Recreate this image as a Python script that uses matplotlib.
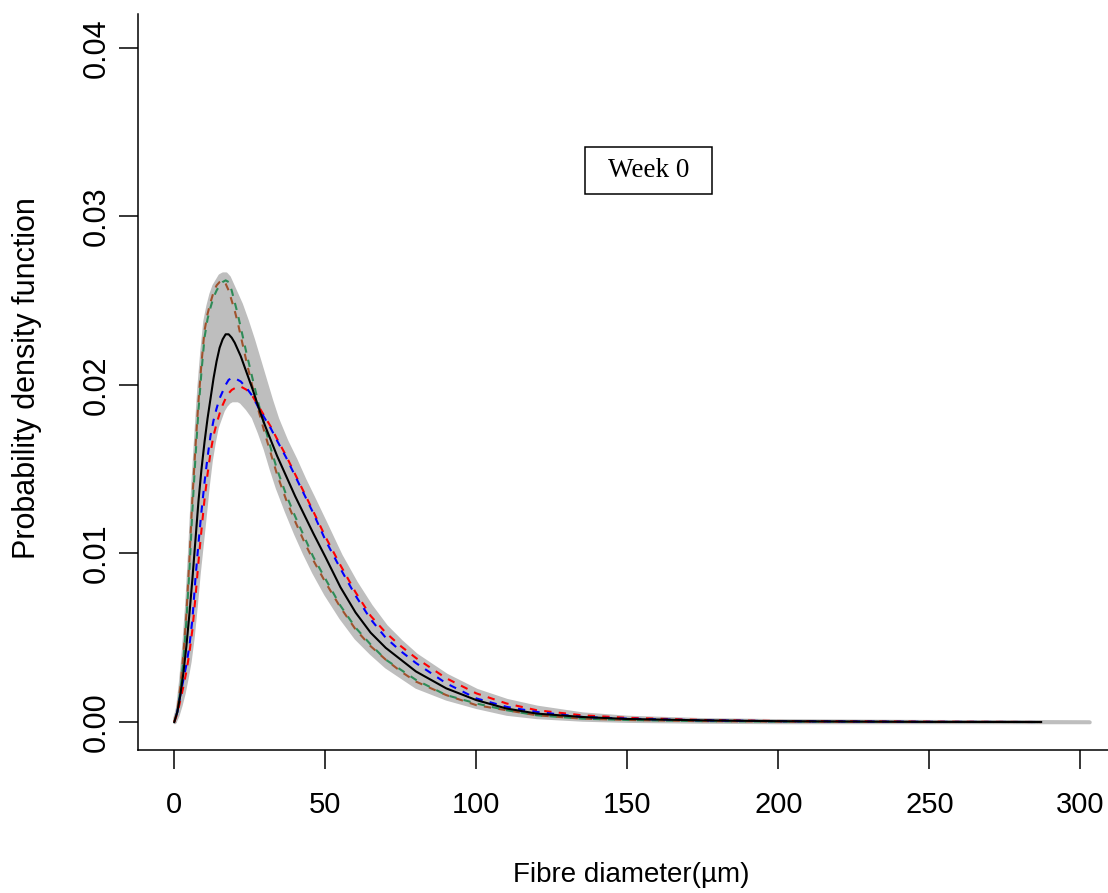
import matplotlib
matplotlib.use("Agg")
import matplotlib.pyplot as plt
from matplotlib.patches import Rectangle

# Fibre diameter grid (um)
diametro = [0, 1, 2, 3, 4, 5, 6, 7, 8, 9, 10, 11, 12, 13, 14, 15, 16, 17, 18, 19, 20,
            21, 22, 23, 24, 26, 28, 30, 32, 34, 37, 40, 43, 46, 50, 55, 60, 65, 70, 75,
            80, 90, 100, 110, 120, 135, 150, 175, 200, 250, 287]

# mean density (black solid)
media = [0.0, 0.0006, 0.0016, 0.0029, 0.0045, 0.0064, 0.0085, 0.0108, 0.0131, 0.0150,
         0.0166, 0.0180, 0.0192, 0.0204, 0.0214, 0.0222, 0.0227, 0.0230, 0.0230, 0.0228,
         0.0225, 0.0221, 0.0217, 0.0212, 0.0207, 0.0197, 0.0186, 0.0176, 0.0167, 0.0158,
         0.0146, 0.0134, 0.0123, 0.0112, 0.0098, 0.0080, 0.0065, 0.0053, 0.0044, 0.0037,
         0.0030, 0.0020, 0.0013, 0.0008, 0.0005, 0.0003, 0.00018, 0.0001, 0.00005, 0.00001,
         0.0]

# dashed curves
marrom = [0.0, 0.0007, 0.0021, 0.0040, 0.0064, 0.0096, 0.0133, 0.0163, 0.0190, 0.0213,
          0.0232, 0.0242, 0.0249, 0.0255, 0.0259, 0.0261, 0.0262, 0.0260, 0.0256, 0.0250,
          0.0244, 0.0237, 0.0229, 0.0221, 0.0213, 0.0198, 0.0184, 0.0171, 0.0159, 0.0147,
          0.0132, 0.0119, 0.0107, 0.0096, 0.0083, 0.0068, 0.0055, 0.0045, 0.0037, 0.0030,
          0.0024, 0.0016, 0.0010, 0.0007, 0.0004, 0.0002, 0.00012, 0.00005, 0.00002, 0.0,
          0.0]
verde = [0.0, 0.0006, 0.0019, 0.0037, 0.0060, 0.0090, 0.0126, 0.0157, 0.0185, 0.0208,
         0.0228, 0.0239, 0.0246, 0.0252, 0.0256, 0.0259, 0.0261, 0.0262, 0.0261, 0.0256,
         0.0249, 0.0242, 0.0234, 0.0226, 0.0218, 0.0203, 0.0188, 0.0175, 0.0162, 0.0150,
         0.0135, 0.0122, 0.0110, 0.0098, 0.0085, 0.0069, 0.0056, 0.0046, 0.0037, 0.0031,
         0.0025, 0.0016, 0.0011, 0.0007, 0.0004, 0.0002, 0.00012, 0.00005, 0.00002, 0.0,
         0.0]
azul = [0.0, 0.0006, 0.0016, 0.0025, 0.0034, 0.0045, 0.0061, 0.0085, 0.0106, 0.0125,
        0.0142, 0.0157, 0.0170, 0.0179, 0.0186, 0.0192, 0.0196, 0.0200, 0.0203, 0.0204,
        0.0204, 0.0203, 0.0202, 0.0200, 0.0198, 0.0193, 0.0186, 0.0180, 0.0174, 0.0167,
        0.0157, 0.0146, 0.0135, 0.0124, 0.0108, 0.0091, 0.0075, 0.0061, 0.0050, 0.0042,
        0.0035, 0.0023, 0.0014, 0.0009, 0.0006, 0.0003, 0.0002, 0.0001, 0.00005, 0.00001,
        0.0]
vermelho = [0.0, 0.0005, 0.0013, 0.0021, 0.0030, 0.0041, 0.0055, 0.0074, 0.0095, 0.0114,
            0.0132, 0.0147, 0.0160, 0.0170, 0.0177, 0.0183, 0.0188, 0.0192, 0.0195, 0.0197,
            0.0198, 0.0199, 0.0199, 0.0198, 0.0197, 0.0193, 0.0187, 0.0181, 0.0175, 0.0168,
            0.0158, 0.0147, 0.0136, 0.0125, 0.0110, 0.0093, 0.0077, 0.0063, 0.0053, 0.0045,
            0.0038, 0.0026, 0.0017, 0.0011, 0.0007, 0.0004, 0.00025, 0.00012, 0.00006, 0.00002,
            0.0]

# grey envelope
diametro_faixa = diametro + [303]
faixa_sup = [0.0002, 0.0009, 0.0025, 0.0045, 0.0070, 0.0103, 0.0140, 0.0170, 0.0198, 0.0220,
             0.0238, 0.0247, 0.0254, 0.0259, 0.0262, 0.0265, 0.0266, 0.0266, 0.0264, 0.0260,
             0.0256, 0.0252, 0.0248, 0.0243, 0.0238, 0.0227, 0.0215, 0.0203, 0.0191, 0.0180,
             0.0167, 0.0156, 0.0144, 0.0133, 0.0118, 0.0099, 0.0083, 0.0069, 0.0057, 0.0048,
             0.0040, 0.0028, 0.0019, 0.0013, 0.0009, 0.0005, 0.0003, 0.00016, 0.0001, 0.00005,
             0.00003, 0.00002]
faixa_inf = [0.0, 0.0004, 0.0010, 0.0017, 0.0026, 0.0036, 0.0050, 0.0068, 0.0088, 0.0105,
             0.0122, 0.0140, 0.0155, 0.0166, 0.0175, 0.0180, 0.0185, 0.0188, 0.0190, 0.0191,
             0.0191, 0.0191, 0.0190, 0.0188, 0.0186, 0.0181, 0.0172, 0.0162, 0.0150, 0.0139,
             0.0125, 0.0112, 0.0100, 0.0089, 0.0076, 0.0062, 0.0050, 0.0041, 0.0033, 0.0027,
             0.0021, 0.0014, 0.0009, 0.0005, 0.0003, 0.00015, 0.00008, 0.00003, 0.0, 0.0,
             0.0, 0.0]

fig = plt.figure(figsize=(11.08, 8.93), dpi=100)
ax = fig.add_axes([138 / 1108, 143.5 / 893, 988 / 1108, 735.5 / 893])

ax.fill_between(diametro_faixa, faixa_inf, faixa_sup, facecolor="#BEBEBE",
                edgecolor="#BEBEBE", linewidth=2.5)
# pairs of dashed lines drawn with shifted dash phase so both colours show
ax.plot(diametro, marrom, color="sienna", lw=1.5, linestyle=(0, (3.5, 3.5)))
ax.plot(diametro, verde, color="seagreen", lw=1.5, linestyle=(3.5, (3.5, 3.5)))
ax.plot(diametro, vermelho, color="red", lw=1.5, linestyle=(0, (3.5, 3.5)))
ax.plot(diametro, azul, color="blue", lw=1.5, linestyle=(3.5, (3.5, 3.5)))
ax.plot(diametro, media, color="black", lw=1.5)

ax.set_xlim(-12.02, 315.1)
ax.set_ylim(-0.00163, 0.0420)

for lado in ["top", "right"]:
    ax.spines[lado].set_visible(False)
for lado in ["left", "bottom"]:
    ax.spines[lado].set_linewidth(1.1)

fonte = "Liberation Sans"
ax.set_xticks([0, 50, 100, 150, 200, 250, 300])
ax.set_yticks([0.00, 0.01, 0.02, 0.03, 0.04])
ax.set_yticklabels(["0.00", "0.01", "0.02", "0.03", "0.04"], rotation=90, va="center")
ax.tick_params(direction="out", length=13.7, width=1.1)
ax.tick_params(axis="x", labelsize=21, pad=16)
ax.tick_params(axis="y", labelsize=22, pad=5)
for rotulo in ax.get_xticklabels() + ax.get_yticklabels():
    rotulo.set_fontfamily(fonte)

fig.text(631 / 1108, 1 - 875 / 893, "Fibre diameter(µm)", fontsize=20, fontfamily=fonte,
         ha="center", va="center")
fig.text(27 / 1108, 1 - 378 / 893, "Probability density function", fontsize=22,
         fontfamily=fonte, rotation=90, ha="center", va="center")

# Week label box
ax.add_patch(Rectangle((136.1, 0.03134), 41.8, 0.00278, fill=False, edgecolor="black", lw=1.1))
ax.text(157.0, 0.03273, "Week 0", fontsize=19.5, fontfamily="Liberation Serif",
        ha="center", va="center")

fig.savefig("out.png", dpi=100)
